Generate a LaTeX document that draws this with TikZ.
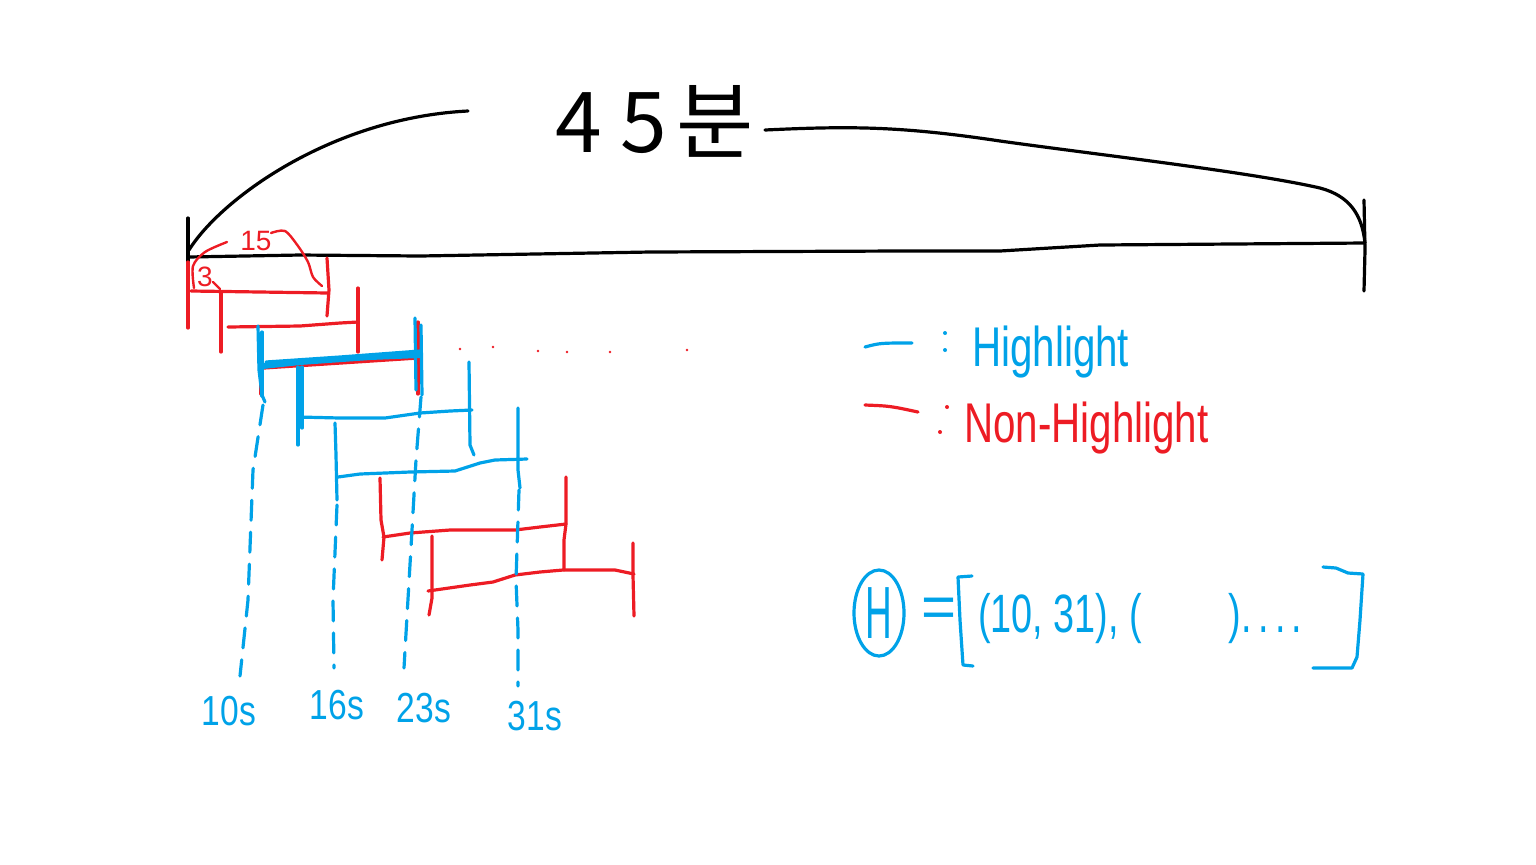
\documentclass[tikz,border=0pt]{standalone}
\usepackage{fontspec}
\setmainfont{Liberation Sans}
\newfontfamily\kr{Noto Sans CJK KR}
\definecolor{pblue}{RGB}{0,162,232}
\definecolor{pred}{RGB}{237,28,36}
\begin{document}
\begin{tikzpicture}[x=0.5pt,y=-0.5pt, line cap=round, line join=round,
  ink/.style={line width=1.6pt},
  hl/.style={ink, draw=pblue},
  nh/.style={ink, draw=pred},
  thin/.style={line width=1.2pt},
  guide/.style={draw=pblue, line width=1.6pt, dash pattern=on 10pt off 6pt},
  lbl/.style={text=pblue, font=\fontsize{21}{21}\selectfont, xscale=0.8, inner sep=0, anchor=base},
  legtxt/.style={font=\fontsize{28}{28}\selectfont, xscale=0.72, inner sep=0, anchor=base west},
  small/.style={text=pred, font=\fontsize{14}{14}\selectfont, inner sep=0},
]
\useasboundingbox (0,0) rectangle (1536,864);

% ---- title and brace ----
\node[font=\kr\fontsize{42}{42}\selectfont, inner sep=0, anchor=base west] (title) at (555,152) {4\hspace{9pt}5\hspace{5pt}분};
\coordinate (t0) at (188,257);
\coordinate (t1) at (1365,243);
\coordinate (bl) at (468,111);
\coordinate (br) at (765,130);
\draw[ink] (189,250) .. controls (220,200) and (330,118) .. (bl);
\draw[ink] (br) .. controls (850,126) and (900,126) .. (1000,141)
  .. controls (1100,155) and (1250,172) .. (1320,188)
  .. controls (1350,196) and (1362,215) .. (t1);

% ---- timeline ----
\draw[ink] (t0) -- (300,255) -- (420,256) -- (650,252) -- (900,251) -- (1000,251) -- (1100,245) -- (t1);
\draw[ink] (188,218) -- (188,298);
\draw[ink] (1364,200) -- (1365,250) -- (1364,291);

% ---- red small annotations ----
\node[small] (n15) at (256,241) {15};
\node[small] (n3) at (205,277) {3};
\draw[nh, thin] plot[smooth] coordinates {(227,242) (205,252) (193,266) (194,288)};
\draw[nh, thin] plot[smooth] coordinates {(271,233) (285,231) (298,246) (308,262) (313,277) (322,286)};
\draw[nh, thin] (213,282) -- (220,289);

% ---- red (non-highlight) intervals ----
\draw[nh] (188,262) -- (188,328);
\draw[nh] (191,291) -- (260,292) -- (328,293);
\draw[nh] (327,258) -- (329,290) -- (327,316);

\draw[nh] (221,292) -- (221,352);
\draw[nh] (228,327) -- (300,326) -- (340,323) -- (358,322);
\draw[nh] (358,288) -- (358,352);

\draw[nh] (261,340) -- (261,394);
\draw[nh] (418,322) -- (418,394);
\draw[nh] (264,368) -- (418,358);

\draw[nh] (380,478) -- (381,520) -- (384,537) -- (382,560);
\draw[nh] (383,537) -- (410,533) -- (450,530) -- (515,530) -- (540,527) -- (566,524);
\draw[nh] (566,477) -- (566,524) -- (564,540) -- (564,570);

\draw[nh] (432,536) -- (432,598) -- (429,615);
\draw[nh] (428,591) -- (470,585) -- (493,582) -- (515,575) -- (540,572) -- (563,570) -- (615,570) -- (634,574);
\draw[nh] (633,543) -- (633,575) -- (634,616);

\foreach \x/\y in {460/349, 493/347, 538/351, 567/352, 610/352, 687/350}
  \fill[pred] (\x,\y) circle[radius=1.4];

% ---- blue (highlight) intervals ----
\draw[hl] (258,326) -- (259,370) -- (262,395) -- (265,402);
\draw[hl] (262,332) -- (262,396);
\draw[pblue, line width=3pt] (263,366) -- (300,362) -- (370,357) -- (420,355);
\draw[hl] (266,362) -- (340,357) -- (420,351);
\draw[hl] (415,318) -- (416,390);
\draw[hl] (421,325) -- (422,395);

\draw[hl] (298,367) -- (298,445);
\draw[hl] (302,367) -- (302,428);
\draw[hl] (298,417) -- (340,418) -- (385,418) -- (420,413) -- (450,411) -- (472,410);
\draw[hl] (469,362) -- (470,445) -- (474,455);

\draw[hl] (335,423) -- (336,455) -- (337,500);
\draw[hl] (338,477) -- (360,474) -- (410,472) -- (455,471) -- (480,463) -- (495,460) -- (527,459);
\draw[hl] (518,408) -- (518,470) -- (520,488);

% ---- dashed guides and time labels ----
\node[lbl] (l10) at (229,725) {10s};
\node[lbl] (l16) at (337,719) {16s};
\node[lbl] (l23) at (424,722) {23s};
\node[lbl] (l31) at (535,730) {31s};
\draw[guide] (263,405) -- (253,470) -- (248,600) -- (240,676);
\draw[guide] (337,505) -- (333,600) -- (334,668);
\draw[guide] (421,397) -- (416,460) -- (412,530) -- (404,668);
\draw[guide] (519,490) -- (516,580) -- (518,630) -- (518,686);

% ---- legend ----
\draw[hl] (865,347) .. controls (880,343) .. (912,343);
\fill[pblue] (945,333) circle[radius=2];
\fill[pblue] (945,350) circle[radius=2];
\node[legtxt, text=pblue] (hltxt) at (972,366) {Highlight};

\draw[nh] (865,405) .. controls (890,406) .. (918,412);
\fill[pred] (947,407) circle[radius=2];
\fill[pred] (940,432) circle[radius=2];
\node[legtxt, text=pred] (nhltxt) at (964,442) {Non-Highlight};

% ---- H = [ ... ] ----
\node[text=pblue, font=\fontsize{37}{37}\selectfont, xscale=0.5, inner sep=0] (H) at (879,613) {H};
\draw[hl] (H) ellipse [x radius=25, y radius=43];
\node[text=pblue, font=\fontsize{30}{30}\selectfont, inner sep=0] (eq) at (939,613) {=};
\draw[hl] (972,576) -- (958,577) -- (960,620) -- (963,665) -- (973,666);
\node[text=pblue, font=\fontsize{27}{27}\selectfont, xscale=0.7, inner sep=0, anchor=west] (list) at (978,619) {(10, 31), (\hspace{62pt}).\,.\,.\,.};
\draw[hl] (1323,567) -- (1336,568) -- (1348,573) -- (1363,574) -- (1360,620) -- (1357,657) -- (1352,668) -- (1313,668);
\end{tikzpicture}
\end{document}
